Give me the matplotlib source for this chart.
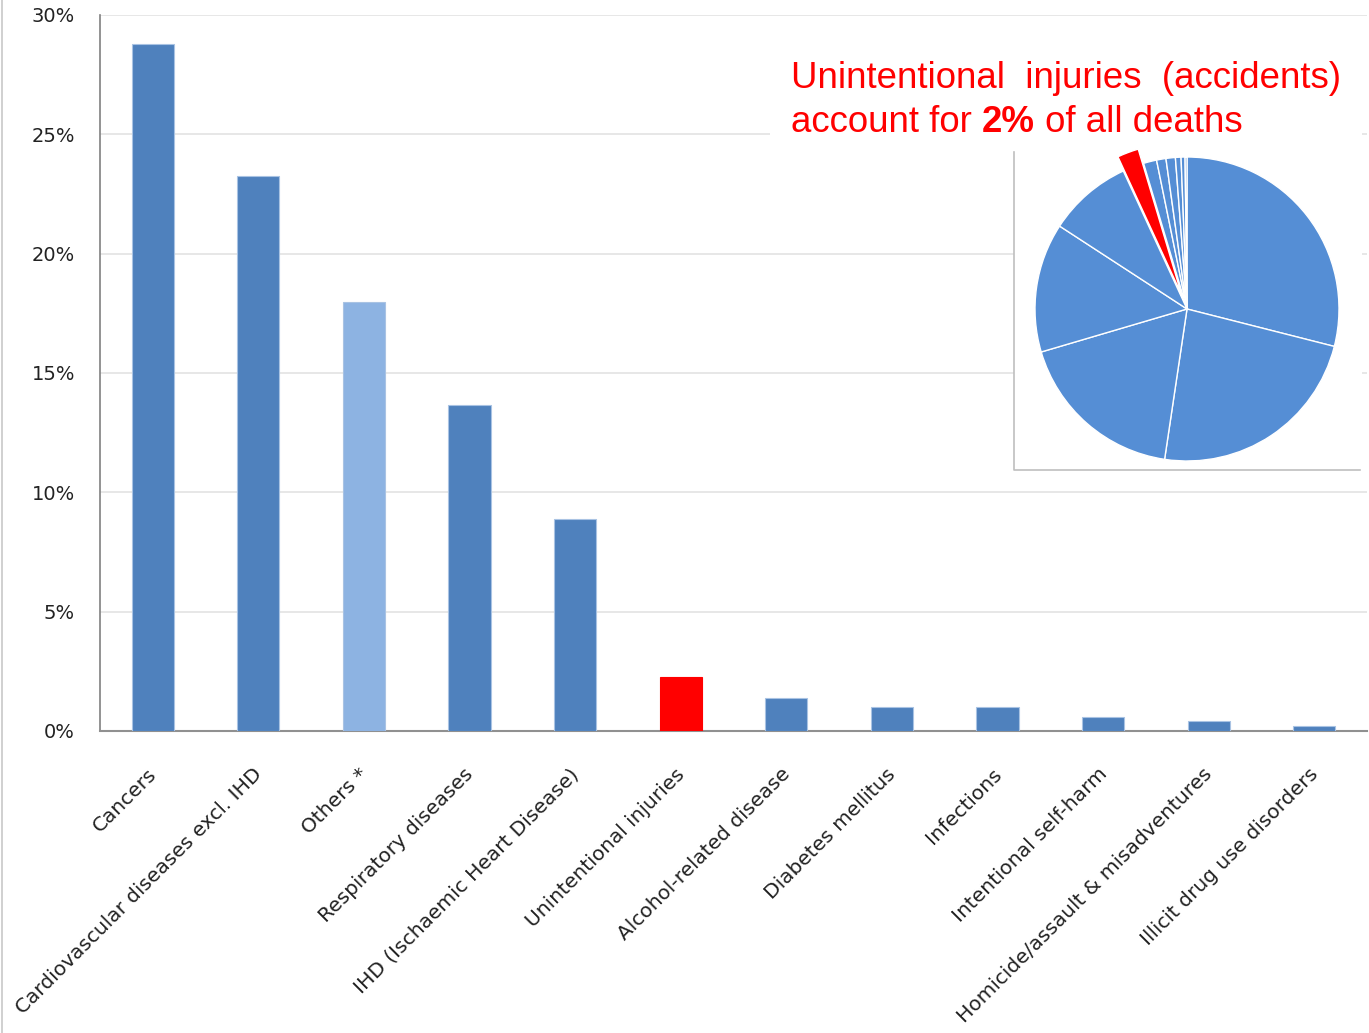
import matplotlib
matplotlib.use("Agg")
import matplotlib.pyplot as plt
import matplotlib.transforms as mtransforms
from matplotlib.patches import Rectangle
from matplotlib.lines import Line2D

categories = ["Cancers", "Cardiovascular diseases excl. IHD", "Others *",
              "Respiratory diseases", "IHD (Ischaemic Heart Disease)",
              "Unintentional injuries", "Alcohol-related disease",
              "Diabetes mellitus", "Infections", "Intentional self-harm",
              "Homicide/assault & misadventures", "Illicit drug use disorders"]
values = [28.78, 23.25, 17.97, 13.66, 8.88, 2.26, 1.39, 0.99, 0.99, 0.59, 0.42, 0.2]
yticks = [0, 5, 10, 15, 20, 25, 30]
ytick_labels = ["0%", "5%", "10%", "15%", "20%", "25%", "30%"]
highlight = "Unintentional injuries"
lighter = "Others *"

W, H = 1369, 1033
fig = plt.figure(figsize=(W / 100, H / 100), dpi=100)
fig.patch.set_facecolor("white")

def fx(px):
    return px / W

def fy(py):
    return 1 - py / H

ax = fig.add_axes([fx(100), fy(731), fx(1367) - fx(100), fy(15) - fy(731)])

colors = []
for c in categories:
    if c == highlight:
        colors.append("#FF0000")
    elif c == lighter:
        colors.append("#8DB3E2")
    else:
        colors.append("#4F81BD")
edges = ["#FF0000" if c == highlight else "#A9C3E3" for c in categories]

x = list(range(len(categories)))
ax.bar(x, values, width=0.4, color=colors, edgecolor=edges, linewidth=0.8, zorder=3)
ax.set_xlim(-0.5, len(categories) - 0.5)
ax.set_ylim(0, 30)
ax.set_yticks(yticks)
ax.set_yticklabels(ytick_labels, fontsize=14, color="#222222")
ax.yaxis.grid(True, color="#E3E3E3", linewidth=1.2, zorder=0)
ax.set_axisbelow(True)
for s in ["top", "right"]:
    ax.spines[s].set_visible(False)
ax.spines["left"].set_color("#808080")
ax.spines["bottom"].set_color("#909090")
ax.spines["left"].set_linewidth(1.2)
ax.spines["bottom"].set_linewidth(1.5)
ax.tick_params(axis="both", length=0)
ax.tick_params(axis="y", pad=18)
ax.tick_params(axis="x", pad=29)
ax.set_xticks(x)
ax.set_xticklabels(categories, rotation=45, ha="right", va="center",
                   rotation_mode="anchor", fontsize=14.5, color="#222222")
offset = mtransforms.ScaledTranslation(1 / 100, 0, fig.dpi_scale_trans)
for lbl in ax.get_xticklabels():
    lbl.set_transform(lbl.get_transform() + offset)

# white boxes behind annotation and pie inset
fig.add_artist(Rectangle((fx(770), fy(150)), fx(1362) - fx(770), fy(40) - fy(150),
                         transform=fig.transFigure, facecolor="white", edgecolor="none", zorder=5))
fig.add_artist(Rectangle((fx(1014), fy(470)), fx(1362) - fx(1014), fy(152) - fy(470),
                         transform=fig.transFigure, facecolor="white", edgecolor="none", zorder=5))
fig.add_artist(Line2D([fx(1014), fx(1014), fx(1360)], [fy(152), fy(470), fy(470)],
                      transform=fig.transFigure, color="#BFBFBF", linewidth=1.2, zorder=6))
# left border of picture
fig.add_artist(Line2D([fx(2), fx(2)], [0, 1], transform=fig.transFigure,
                      color="#C8C8C8", linewidth=1.2, zorder=6))

# pie inset
cx, cy, r = 1187, 309, 152
pax = fig.add_axes([fx(cx - r), fy(cy + r), fx(2 * r), fy(cy - r) - fy(cy + r)], zorder=7)
pie_colors = ["#FF0000" if c == highlight else "#558ED5" for c in categories]
explode = [0.1 if c == highlight else 0 for c in categories]
pax.pie(values, colors=pie_colors, startangle=90, counterclock=False, explode=explode,
        wedgeprops=dict(edgecolor="white", linewidth=1.0), radius=1)
pax.set_xlim(-1, 1)
pax.set_ylim(-1, 1)
pax.set_aspect("equal")
pax.axis("off")
for p in pax.patches:
    p.set_clip_on(False)

# annotation text
tfont = ["Liberation Sans", "DejaVu Sans"]
fs = 26.4
fig.text(fx(791), fy(88), "Unintentional  injuries  (accidents)", color="#FF0000",
         fontsize=fs, family=tfont, ha="left", va="baseline", zorder=8)
t1 = fig.text(fx(791), fy(132), "account for ", color="#FF0000",
              fontsize=fs, family=tfont, ha="left", va="baseline", zorder=8)
t2 = fig.text(fx(791), fy(132), "2%", color="#FF0000", fontsize=fs, family=tfont,
              weight="bold", ha="left", va="baseline", zorder=8)
fig.canvas.draw()
bb1 = t1.get_window_extent()
t2.set_position((bb1.x1 / W, fy(132)))
fig.canvas.draw()
bb2 = t2.get_window_extent()
fig.text(bb2.x1 / W, fy(132), " of all deaths", color="#FF0000", fontsize=fs,
         family=tfont, ha="left", va="baseline", zorder=8)

fig.savefig("out.png", dpi=100)
